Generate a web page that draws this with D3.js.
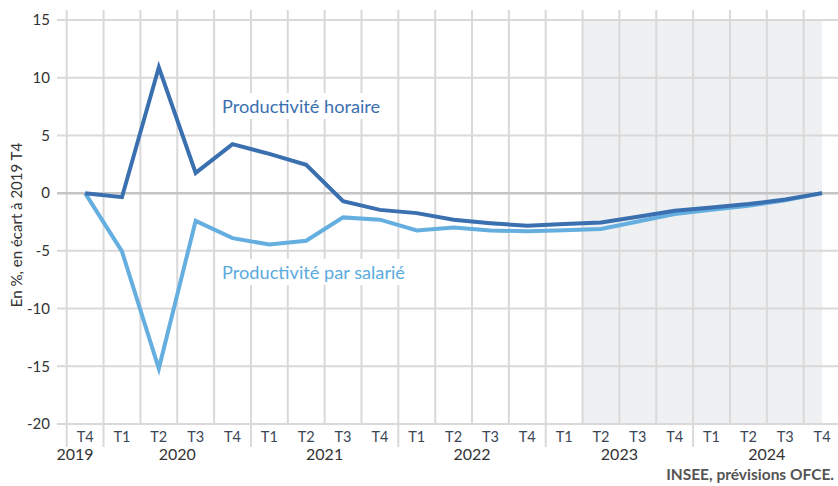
<!DOCTYPE html>
<html><head><meta charset="utf-8">
<script src="https://cdn.jsdelivr.net/npm/d3@7"></script>
<style>body{margin:0;background:#fff}svg{display:block}</style>
</head><body>
<svg id="c" width="838" height="486"></svg>
<script>
const quarters = ["T4","T1","T2","T3","T4","T1","T2","T3","T4","T1","T2","T3","T4","T1","T2","T3","T4","T1","T2","T3","T4"];
const years = [{y:"2019",from:0,to:0},{y:"2020",from:1,to:4},{y:"2021",from:5,to:8},{y:"2022",from:9,to:12},{y:"2023",from:13,to:16},{y:"2024",from:17,to:20}];
const horaire = [0,-0.35,10.9,1.75,4.25,3.4,2.45,-0.7,-1.45,-1.73,-2.3,-2.6,-2.83,-2.68,-2.55,-2.05,-1.53,-1.25,-0.95,-0.55,0];
const salarie = [0,-5.05,-15.2,-2.4,-3.9,-4.45,-4.12,-2.1,-2.3,-3.24,-2.98,-3.24,-3.3,-3.22,-3.1,-2.45,-1.8,-1.45,-1.1,-0.62,0];
const yTicks = [15,10,5,0,-5,-10,-15,-20];
const forecastStart = 14;

const svg = d3.select("#c");
const font = "Lato, 'Noto Sans', sans-serif";
const idx = d3.range(quarters.length);
const x = d3.scaleBand().domain(idx).range([66.7, 840.5]).paddingInner(0).paddingOuter(0);
const y = d3.scaleLinear().domain([-20,15]).range([424,20]);
const cx = i => x(i) + x.bandwidth()/2;

// forecast shading
svg.append("rect").attr("x", x(forecastStart)).attr("y", y(15)+1)
  .attr("width", cx(quarters.length-1) - x(forecastStart)).attr("height", y(-20)-y(15)-1)
  .attr("fill", "#eff0f2");

// vertical gridlines
const yearStarts = new Set(years.map(d=>d.from));
idx.forEach(i => {
  const isYear = yearStarts.has(i);
  svg.append("line").attr("x1", x(i)).attr("x2", x(i))
    .attr("y1", 10).attr("y2", isYear ? 447 : y(-20))
    .attr("stroke", "#d9d9d9").attr("stroke-width", 2);
});

// horizontal gridlines
yTicks.forEach(t => {
  svg.append("line").attr("x1", 57).attr("x2", 838).attr("y1", y(t)).attr("y2", y(t))
    .attr("stroke", t===0 ? "#c4c4c4" : "#d9d9d9").attr("stroke-width", t===0 ? 2.5 : 2);
});

// y tick labels
svg.append("g").selectAll("text").data(yTicks).join("text")
  .attr("x", 50).attr("y", d => y(d)).attr("dy", "0.35em")
  .attr("text-anchor", "end").attr("font-family", font).attr("font-size", 15)
  .attr("fill", "#333").text(d => d);

// y axis title
svg.append("text").attr("transform", "translate(22,225) rotate(-90)")
  .attr("text-anchor", "middle").attr("font-family", font).attr("font-size", 15)
  .attr("fill", "#333").text("En %, en écart à 2019 T4");

// x quarter labels
svg.append("g").selectAll("text").data(idx).join("text")
  .attr("x", d => cx(d)).attr("y", 442).attr("text-anchor", "middle")
  .attr("font-family", font).attr("font-size", 14.5).attr("fill", "#3b4656")
  .text(d => quarters[d]);

// year labels
svg.append("g").selectAll("text").data(years).join("text")
  .attr("x", d => {
    const c = (x(d.from) + x(d.to) + x.bandwidth())/2;
    return d.from === 0 ? 75 : c;
  })
  .attr("y", 460).attr("text-anchor", "middle")
  .attr("font-family", font).attr("font-size", 16).attr("fill", "#333")
  .text(d => d.y);

// lines
const line = d3.line().x((d,i) => cx(i)).y(d => y(d));
svg.append("path").datum(salarie).attr("d", line).attr("fill", "none")
  .attr("stroke", "#64afe0").attr("stroke-width", 4).attr("stroke-linejoin", "miter");
svg.append("path").datum(horaire).attr("d", line).attr("fill", "none")
  .attr("stroke", "#3a6fb0").attr("stroke-width", 4).attr("stroke-linejoin", "miter");

// line labels with white boxes
function label(txt, xx, yy, col) {
  const g = svg.append("g");
  const r = g.append("rect").attr("fill", "#fff");
  const t = g.append("text").attr("x", xx).attr("y", yy).attr("font-family", font)
    .attr("font-size", 18.2).attr("fill", col).text(txt);
  const b = t.node().getBBox();
  r.attr("x", b.x - 3).attr("y", b.y - 2).attr("width", b.width + 6).attr("height", b.height + 4);
}
label("Productivité horaire", 222, 113, "#3a6fb0");
label("Productivité par salarié", 222, 279, "#5aabe0");

// source
svg.append("text").attr("x", 834).attr("y", 480).attr("text-anchor", "end")
  .attr("font-family", font).attr("font-size", 15.5).attr("font-weight", "bold")
  .attr("fill", "#555").text("INSEE, prévisions OFCE.");
</script>
</body></html>
